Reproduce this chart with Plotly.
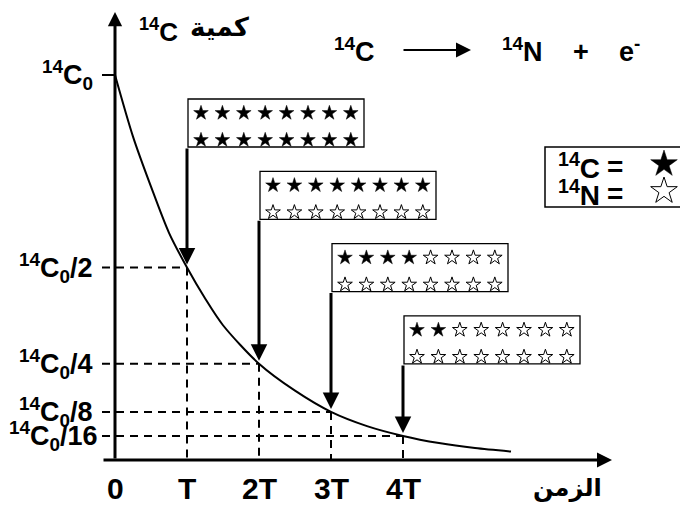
import plotly.graph_objects as go

# values (time in half-lives T, amount as a fraction of 14C0)
half_lives = [1, 2, 3, 4]
x_ticks = [0, 1, 2, 3, 4]
x_tick_text = ["0", "T", "2T", "3T", "4T"]
levels = [1, 1 / 2, 1 / 4, 1 / 8, 1 / 16]
level_text = ["<sup>14</sup>C<sub>0</sub>", "<sup>14</sup>C<sub>0</sub>/2", "<sup>14</sup>C<sub>0</sub>/4",
              "<sup>14</sup>C<sub>0</sub>/8", "<sup>14</sup>C<sub>0</sub>/16"]
t_curve = [0, 0.25, 0.5, 0.75, 1, 1.25, 1.5, 2, 2.5, 3, 3.5, 4, 4.5, 5, 5.5]
n_curve = [1.0, 0.84, 0.71, 0.59, 0.5, 0.42, 0.35, 0.25, 0.18, 0.125, 0.088, 0.0625, 0.044, 0.031, 0.022]
c14_left = [16, 8, 4, 2]   # black stars (14C) in each box
atoms = 16                 # stars per box

W, H = 688, 510
PAGE = 8                               # default body margin of the html page
X0, Y0, TPX, CPX = 115, 460, 72, 385   # origin and unit sizes in pixels


def px(x):
    return (x - X0) / TPX


def py(y):
    return (Y0 - y) / CPX


FONT = "Liberation Sans, Arial, DejaVu Sans"


def txt(s, x, y, size=27, xanchor="center"):
    return dict(text=s, x=x, y=y, xref="x", yref="y", showarrow=False, xanchor=xanchor, yanchor="middle",
                font=dict(family=FONT, size=size, color="black", weight="bold"))


def arrow(x, y, ax, ay, width=3, size=1.0, standoff=0):
    return dict(text="", x=x, y=y, ax=ax, ay=ay, xref="x", yref="y", axref="x", ayref="y", showarrow=True,
                arrowhead=2, arrowwidth=width, arrowsize=size, arrowcolor="black", standoff=standoff)


fig = go.Figure()

# dashed guides
gx, gy = [], []
for k, lv in zip(half_lives, levels[1:]):
    gx += [px(102), k, None, k, k, None]
    gy += [lv, lv, None, lv, 0, None]
fig.add_trace(go.Scatter(x=gx, y=gy, mode="lines", line=dict(color="black", width=2, dash="8px,6px"),
                         hoverinfo="skip"))

# decay curve
fig.add_trace(go.Scatter(x=t_curve, y=n_curve, mode="lines",
                         line=dict(color="black", width=2, shape="spline", smoothing=0.8), hoverinfo="skip"))

shapes = [dict(type="line", x0=px(102), x1=0, y0=1, y1=1, line=dict(color="black", width=2))]
annotations = []

# axes with arrowheads
annotations.append(arrow(px(612), 0, px(102), 0, width=3, size=1.0))
annotations.append(arrow(0, py(12), 0, 0, width=3, size=0.95))

# star boxes
fx, fy, fs, ox, oy, os_ = [], [], [], [], [], []
for i, k in enumerate(half_lives):
    left = X0 + k * TPX + 1
    top = 99 + 72.3 * i
    shapes.append(dict(type="rect", x0=px(left), x1=px(left + 176), y0=py(top), y1=py(top + 48),
                       line=dict(color="black", width=1.3)))
    for j in range(atoms):
        row, col = divmod(j, 8)
        sx, sy = px(left + 13 + 21.4 * col), py(top + 14 + 27 * row)
        if j < c14_left[i]:
            fx.append(sx); fy.append(sy); fs.append(11)
        else:
            ox.append(sx); oy.append(sy); os_.append(11)
    annotations.append(arrow(k, levels[i + 1], k, py(top + 48), width=3, size=1.1, standoff=3))

# legend box
shapes.append(dict(type="rect", x0=px(545), x1=px(683), y0=py(147), y1=py(207),
                   line=dict(color="black", width=1.5)))
fx.append(px(664)); fy.append(py(164)); fs.append(20)
ox.append(px(664)); oy.append(py(191)); os_.append(20)

fig.add_trace(go.Scatter(x=fx, y=fy, mode="markers", hoverinfo="skip",
                         marker=dict(symbol="star", size=fs, color="black", opacity=1,
                                     line=dict(width=0.5, color="black"))))
fig.add_trace(go.Scatter(x=ox, y=oy, mode="markers", hoverinfo="skip",
                         marker=dict(symbol="star-open", size=os_, color="black", opacity=1,
                                     line=dict(width=1, color="black"))))

# tick labels
for t, s in zip(x_ticks, x_tick_text):
    annotations.append(txt(s, t, py(488), size=30))
for lv, s in zip(levels, level_text):
    annotations.append(txt(s, px(100 if s.endswith("16") else 95), lv, size=27, xanchor="right"))

# titles and reaction
annotations.append(txt("<sup>14</sup>C", px(137), py(30), size=26, xanchor="left"))
annotations.append(txt("كمية", px(188), py(27), size=26, xanchor="left"))
annotations.append(txt("الزمن", px(567), py(488), size=24))
annotations.append(txt("<sup>14</sup>C", px(332), py(50), size=27, xanchor="left"))
annotations.append(arrow(px(471), py(50), px(402), py(50), width=2, size=1.5))
annotations.append(txt("<sup>14</sup>N", px(500), py(50), size=27, xanchor="left"))
annotations.append(txt("+", px(581), py(52), size=27))
annotations.append(txt("e<sup>-</sup>", px(617), py(50), size=27, xanchor="left"))
annotations.append(txt("<sup>14</sup>C", px(556), py(166), size=28, xanchor="left"))
annotations.append(txt("=", px(615), py(166), size=28))
annotations.append(txt("<sup>14</sup>N", px(556), py(193), size=28, xanchor="left"))
annotations.append(txt("=", px(615), py(193), size=28))

# the page puts the figure 8px in from the corner, so the figure covers [8, W] x [8, H]
fig.update_layout(
    width=W - PAGE, height=H - PAGE, margin=dict(l=0, r=0, t=0, b=0),
    paper_bgcolor="white", plot_bgcolor="white", showlegend=False,
    xaxis=dict(range=[px(PAGE), px(W)], visible=False, fixedrange=True),
    yaxis=dict(range=[py(H), py(PAGE)], visible=False, fixedrange=True),
    shapes=shapes, annotations=annotations,
)
fig.write_html("out.html")
